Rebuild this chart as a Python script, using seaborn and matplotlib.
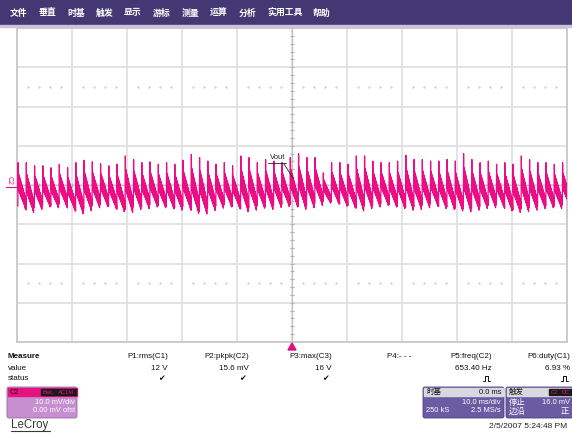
import numpy as np
import pandas as pd
import matplotlib
matplotlib.use("Agg")
import matplotlib.pyplot as plt
import seaborn as sns
from matplotlib.patches import Rectangle, FancyBboxPatch, Polygon

# ---------------- data ----------------
menu_items = ["文件", "垂直", "时基", "触发", "显示", "游标", "测量", "运算", "分析", "实用工具", "帮助"]

# per-cycle ripple peaks / troughs of Vout (mV), left to right
peaks_mv = [5.7, 5.7, 4.9, 4.9, 4.4, 5.3, 4.4, 5.7, 6.3, 5.9, 5.4, 4.9, 5.3, 7.4, 6.5, 5.7, 5.9,
            5.3, 5.7, 5.3, 6.3, 7.8, 7.0, 6.1, 5.3, 5.7, 4.9, 7.4, 7.0, 5.7, 6.5, 6.1, 5.7,
            7.0, 8.0, 7.0, 7.0, 3.1, 5.7, 5.7, 5.3, 7.4, 7.4, 6.1, 5.7, 5.7, 6.1, 7.6, 6.5,
            6.5, 6.1, 6.1, 6.5, 6.1, 8.0, 6.5, 5.7, 6.1, 5.3, 5.7, 5.3, 7.4, 6.5, 5.7, 5.7, 5.3, 5.7]
troughs_mv = [-6.0, -7.0, -6.2, -5.6, -5.8, -5.4, -6.4, -7.3, -6.6, -5.8, -5.5, -5.9, -6.8, -7.0,
              -6.2, -6.0, -5.6, -5.8, -6.1, -6.4, -6.0, -7.2, -7.4, -6.5, -5.9, -5.6, -6.0, -6.8,
              -6.4, -5.9, -6.2, -5.7, -5.5,
              -5.6, -6.2, -5.8, -5.2, -4.6, -4.8, -5.4, -5.8, -6.6, -6.0, -5.6, -5.2, -5.6, -6.0,
              -6.4, -6.2, -5.8, -5.4, -6.0, -6.2, -6.6, -6.8, -6.4, -6.0, -5.8, -5.6, -6.6, -7.0,
              -6.8, -6.4, -6.0, -5.8, -6.0, -5.6]
# shape of one ripple cycle (0 = trough, 1 = peak): sharp rise, then a ringing sawtooth decay.
ring_upper = [1.00, 0.76, 0.72, 0.68, 0.64, 0.60, 0.56, 0.52, 0.48, 0.44, 0.40, 0.36, 0.32, 0.28, 0.24]
ring_lower = [0.42, 0.38, 0.35, 0.32, 0.29, 0.26, 0.23, 0.20, 0.17, 0.14, 0.11, 0.08, 0.04, 0.00, 0.10]
period_ms = 1.50
first_cycle_ms = 0.15

measure_names = ["P1:rms(C1)", "P2:pkpk(C2)", "P3:max(C3)", "P4:- - -", "P5:freq(C2)", "P6:duty(C1)"]
measure_values = ["12 V", "15.6 mV", "16 V", "", "653.40 Hz", "6.93 %"]
measure_status = ["check", "check", "check", "", "pulse", "pulse"]

# ---------------- build trace ----------------
cycle_shape = [0.05] + [v for pair in zip(ring_upper, ring_lower) for v in pair]
n_s = len(cycle_shape)
frac = np.linspace(0, 1, n_s, endpoint=False)
ts, vs = [], []
for i, (pk, tr) in enumerate(zip(peaks_mv, troughs_mv)):
    t0 = first_cycle_ms + i * period_ms
    for f, lev in zip(frac, cycle_shape):
        ts.append(t0 + f * period_ms)
        vs.append(tr + lev * (pk - tr))
df = pd.DataFrame({"t": ts, "v": vs})

# ---------------- figure ----------------
sns.set_theme(style="white")
plt.rcParams["font.family"] = ["Liberation Sans", "Noto Sans CJK SC", "DejaVu Sans"]

W, H = 572, 434
fig = plt.figure(figsize=(W / 100, H / 100), dpi=100)
fig.patch.set_facecolor("white")

x0, y0, x1, y1 = 17, 28, 567, 342
ax = fig.add_axes([x0 / W, 1 - y1 / H, (x1 - x0) / W, (y1 - y0) / H])
ax.set_xlim(0, 100)
ax.set_ylim(-40, 40)
ax.set_xticks(np.arange(0, 101, 10))
ax.set_yticks(np.arange(-40, 41, 10))
ax.tick_params(length=0, labelbottom=False, labelleft=False)
ax.grid(True, color="#e0e0e0", lw=1.3)
for s in ax.spines.values():
    s.set_color("#c8c8c8")
    s.set_linewidth(1.3)

# center crosshair with minor ticks
ax.axvline(50, color="#c4c4c4", lw=0.9, zorder=1)
ax.axhline(0, color="#c4c4c4", lw=0.9, zorder=1)
ax.plot(np.full(41, 50.0), np.arange(-40, 40.1, 2), ls="none", marker="_", ms=3.5, mew=0.8, color="#b4b4b4", zorder=1)
ax.plot(np.arange(0, 100.1, 2), np.zeros(51), ls="none", marker="|", ms=3.5, mew=0.8, color="#b4b4b4", zorder=1)
# dotted helper rows
dx = np.array([c * 10 + d for c in range(10) for d in (2, 4, 6, 8)], dtype=float)
for yy in (25, -25):
    ax.plot(dx, np.full(dx.shape, yy), ls="none", marker="o", ms=0.7, color="#d2d2d2", zorder=1)

sns.lineplot(data=df, x="t", y="v", sort=False, estimator=None, color="#ec0c84",
             lw=0.9, ax=ax, zorder=3)
ax.set_xlabel("")
ax.set_ylabel("")

# ---------------- overlay (pixel coordinates) ----------------
ov = fig.add_axes([0, 0, 1, 1], zorder=5)
ov.set_xlim(0, W)
ov.set_ylim(H, 0)
ov.axis("off")

# menu bar
ov.add_patch(Rectangle((0, 0), W, 25, color="#433873", zorder=1))
ov.add_patch(Rectangle((0, 25), W, 2, color="#c9c4dc", zorder=1))
menu_x = [10, 39, 67, 96, 124, 153, 182, 210, 239, 267, 313]
for xm, item in zip(menu_x, menu_items):
    ov.text(xm, 13, item, color="white", fontsize=6.4, va="center", ha="left", weight="bold",
            family=["Noto Sans CJK SC", "DejaVu Sans"])

# C2 marker at left
ov.text(9, 181, "C2", color="#e0107c", fontsize=5, rotation=270, ha="center", va="center")
ov.plot([6, 16], [187, 187], color="#e0107c", lw=0.8)

# Vout label
ov.text(270, 161, "Vout", fontsize=5.5, color="#222222", ha="left", va="bottom")
ov.plot([268, 286], [163, 163], color="#222222", lw=0.6)
ov.plot([284, 293], [164, 178], color="#222222", lw=0.6)

# trigger marker
ov.add_patch(Polygon([(288, 350), (296, 350), (292, 343)], closed=True, color="#e0107c"))

# measure table
fs = 5.8
ov.text(8, 357, "Measure", fontsize=fs, weight="bold", color="#111111", va="center")
ov.text(8, 368, "value", fontsize=fs, color="#111111", va="center")
ov.text(8, 379, "status", fontsize=fs, color="#111111", va="center")
col_x = [168, 249, 332, 411, 492, 570]
for cx, nm, val, st in zip(col_x, measure_names, measure_values, measure_status):
    ov.text(cx, 357, nm, fontsize=fs, color="#111111", ha="right", va="center")
    ov.text(cx, 368, val, fontsize=fs, color="#111111", ha="right", va="center")
    if st == "check":
        ov.text(cx - 3, 379, "✔", fontsize=fs, color="#111111", ha="right", va="center",
                family=["DejaVu Sans"])
    elif st == "pulse":
        # pulse-shaped status icon (no installed font has the glyph)
        px = cx - 9
        ov.plot([px, px + 2, px + 2, px + 5, px + 5, px + 7], [381, 381, 376, 376, 381, 381],
                color="#111111", lw=0.7)

bfs = 5.4
# C2 channel box
ov.add_patch(FancyBboxPatch((7, 387), 70, 31, boxstyle="round,pad=0,rounding_size=2",
                            fc="#c68fd0", ec="#9a6aa8", lw=0.6))
ov.add_patch(Rectangle((7.5, 387.5), 69, 8.5, color="#e5137f"))
ov.text(10, 392, "C2", fontsize=bfs, color="#300018", va="center")
ov.add_patch(Rectangle((41, 388.5), 15, 6.5, color="#1a1a1a"))
ov.add_patch(Rectangle((57, 388.5), 19, 6.5, color="#1a1a1a"))
ov.text(48.5, 392, "BwL", fontsize=4.2, color="#e5137f", ha="center", va="center")
ov.text(66.5, 392, "AC1M", fontsize=4.2, color="#e5137f", ha="center", va="center")
ov.text(75, 402, "10.0 mV/div", fontsize=bfs, color="white", ha="right", va="center")
ov.text(75, 411, "0.00 mV ofst", fontsize=bfs, color="white", ha="right", va="center")

# timebase box
ov.add_patch(FancyBboxPatch((423, 387), 81, 31, boxstyle="round,pad=0,rounding_size=2",
                            fc="#6a5ca2", ec="#4a3f80", lw=0.6))
ov.add_patch(Rectangle((423.5, 387.5), 80, 8.5, color="#d8d8e0"))
ov.text(426, 392, "时基", fontsize=bfs, color="#111111", va="center",
        family=["Noto Sans CJK SC", "DejaVu Sans"])
ov.text(501, 392, "0.0 ms", fontsize=bfs, color="#111111", ha="right", va="center")
ov.text(501, 402, "10.0 ms/div", fontsize=bfs, color="white", ha="right", va="center")
ov.text(426, 411, "250 kS", fontsize=bfs, color="white", ha="left", va="center")
ov.text(501, 411, "2.5 MS/s", fontsize=bfs, color="white", ha="right", va="center")

# trigger box
ov.add_patch(FancyBboxPatch((506, 387), 72, 31, boxstyle="round,pad=0,rounding_size=2",
                            fc="#6a5ca2", ec="#4a3f80", lw=0.6))
ov.add_patch(Rectangle((506.5, 387.5), 71, 8.5, color="#d8d8e0"))
ov.text(509, 392, "触发", fontsize=bfs, color="#111111", va="center",
        family=["Noto Sans CJK SC", "DejaVu Sans"])
ov.add_patch(Rectangle((549, 388.5), 10, 6.5, color="#1a1a1a"))
ov.add_patch(Rectangle((560, 388.5), 14, 6.5, color="#1a1a1a"))
ov.text(554, 392, "C2", fontsize=4.2, color="#e5137f", ha="center", va="center")
ov.text(566, 392, "DC", fontsize=4.2, color="#e5137f", ha="center", va="center")
ov.text(509, 402, "停止", fontsize=bfs + 0.6, color="white", va="center",
        family=["Noto Sans CJK SC", "DejaVu Sans"])
ov.text(570, 402, "16.0 mV", fontsize=bfs, color="white", ha="right", va="center")
ov.text(509, 411, "边沿", fontsize=bfs + 0.6, color="white", va="center",
        family=["Noto Sans CJK SC", "DejaVu Sans"])
ov.text(569, 411, "正", fontsize=bfs + 0.6, color="white", ha="right", va="center",
        family=["Noto Sans CJK SC", "DejaVu Sans"])

# footer
ov.text(567, 427, "2/5/2007 5:24:48 PM", fontsize=6.0, color="#222222", ha="right", va="center")
ov.text(11, 425, "LeCroy", fontsize=8.3, color="#3a3a3a", ha="left", va="center")
ov.plot([11, 50], [431, 431], color="#3a3a3a", lw=0.8)

fig.savefig("out.png", dpi=100)
